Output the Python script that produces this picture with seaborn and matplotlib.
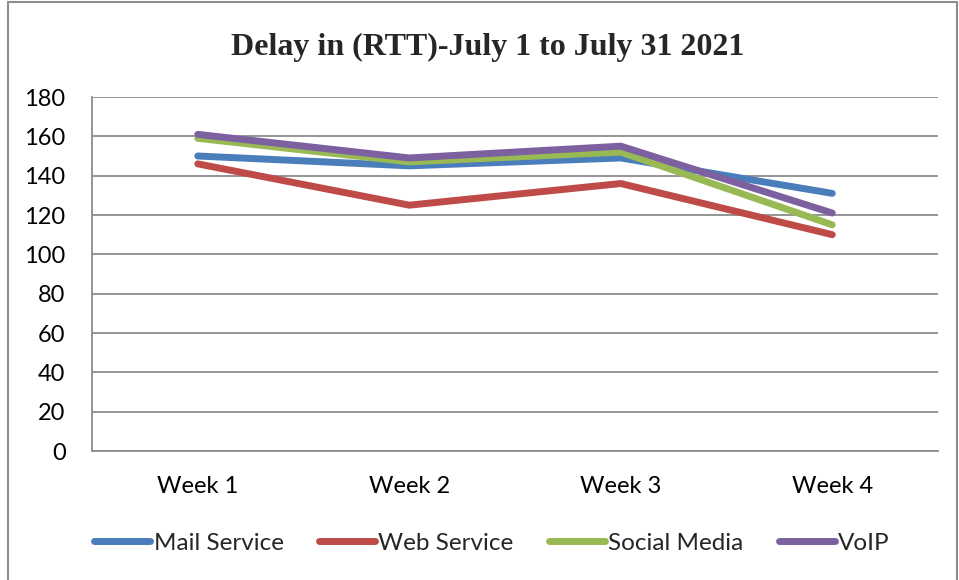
import matplotlib
matplotlib.use("Agg")
import matplotlib.pyplot as plt
import seaborn as sns
import pandas as pd
from matplotlib.patches import Rectangle

# Weekly round-trip delay per service
weeks = ["Week 1", "Week 2", "Week 3", "Week 4"]
mail_service = [150, 145, 149, 131]
web_service = [146, 125, 136, 110]
social_media = [159, 147, 152, 115]
voip = [161, 149, 155, 121]

series_names = ["Mail Service", "Web Service", "Social Media", "VoIP"]
series_values = [mail_service, web_service, social_media, voip]
colors = ["#4A7EBB", "#BE4B48", "#98B954", "#7D60A0"]
y_ticks = [0, 20, 40, 60, 80, 100, 120, 140, 160, 180]

rows = []
for name, vals in zip(series_names, series_values):
    for i, (w, v) in enumerate(zip(weeks, vals)):
        rows.append({"Week": w, "pos": i, "Service": name, "Delay": v})
df = pd.DataFrame(rows)

sns.set_theme(style="white")
plt.rcParams["font.family"] = ["Lato", "DejaVu Sans"]

fig = plt.figure(figsize=(9.59, 5.8), dpi=100)
ax = fig.add_axes([92 / 959, 1 - 451 / 580, (938 - 92) / 959, (451 - 97) / 580])

sns.lineplot(data=df, x="pos", y="Delay", hue="Service", hue_order=series_names,
             palette=colors, linewidth=5, ax=ax, legend=False,
             solid_capstyle="round", solid_joinstyle="round")

ax.set_xlim(-0.5, 3.5)
ax.set_ylim(0, 180)
ax.set_xticks(range(len(weeks)))
ax.set_xticklabels(weeks)
ax.set_yticks(y_ticks)
ax.set_xlabel("")
ax.set_ylabel("")
ax.tick_params(axis="both", length=0, labelsize=17, colors="black")
ax.tick_params(axis="y", pad=19)
ax.tick_params(axis="x", pad=18)
ax.yaxis.grid(True, color="#8C8C8C", linewidth=1.3)
ax.xaxis.grid(False)
ax.set_axisbelow(True)
for side in ["top", "right"]:
    ax.spines[side].set_visible(False)
for side in ["left", "bottom"]:
    ax.spines[side].set_visible(True)
    ax.spines[side].set_color("#8C8C8C")
    ax.spines[side].set_linewidth(1.3)

fig.text(488 / 959, 1 - 47 / 580, "Delay in (RTT)-July 1 to July 31 2021",
         ha="center", va="center", fontsize=23, fontweight="bold",
         family=["Liberation Serif", "DejaVu Serif"])

handles = [plt.Line2D([], [], color=c, linewidth=5, solid_capstyle="round")
           for c in colors]
fig.legend(handles, series_names, loc="center", bbox_to_anchor=(492 / 959, 1 - 543 / 580),
           ncol=4, frameon=False, fontsize=17.5, handlelength=2.3, handletextpad=0.15,
           columnspacing=1.45)

# Outer chart frame
fig.patches.append(Rectangle((8 / 959, -0.05), (957 - 8) / 959, 1.05 - 2 / 580,
                             transform=fig.transFigure, fill=False,
                             edgecolor="#8C8C8C", linewidth=1.5))

fig.savefig("out.png", dpi=100, facecolor="white")
